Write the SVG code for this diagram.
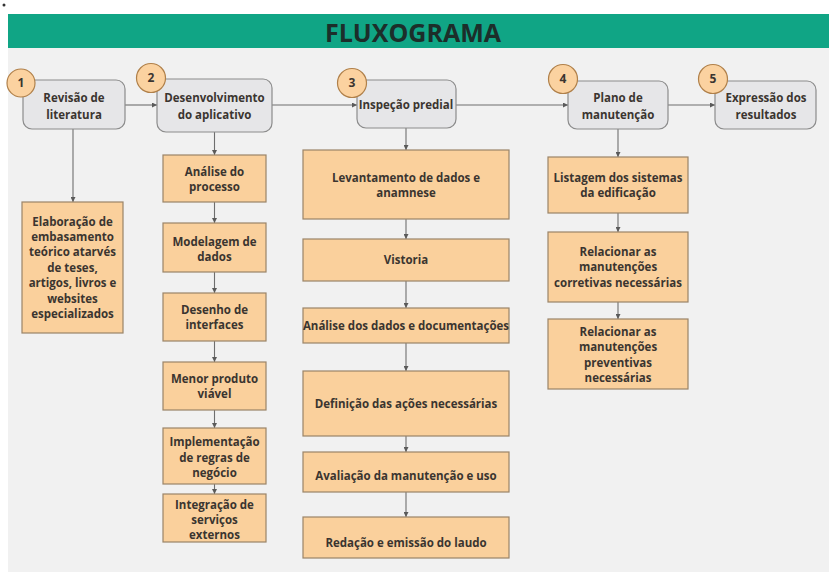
<svg xmlns="http://www.w3.org/2000/svg" width="829" height="572" viewBox="0 0 829 572">
<defs>
<style>
.t{font-family:"Open Sans","DejaVu Sans",sans-serif;font-weight:700;font-size:11.5px;fill:#3b3530;text-anchor:middle}
.g{fill:#e6e6e8;stroke:#8c8c8c;stroke-width:1.2}
.o{fill:#fad09c;stroke:#9a8468;stroke-width:1.2}
.c{fill:#fbd2a0;stroke:#b0804a;stroke-width:1.2}
.n{font-family:"Open Sans","DejaVu Sans",sans-serif;font-weight:700;font-size:12px;fill:#3b3530;text-anchor:middle}
.l{stroke:#6e6e6e;stroke-width:1.1;fill:none;marker-end:url(#a)}
</style>
<marker id="a" viewBox="0 0 6 6" refX="6" refY="3" markerWidth="5" markerHeight="5" orient="auto" markerUnits="userSpaceOnUse">
<path d="M0,0 L6,3 L0,6 z" fill="#5a5a5a"/>
</marker>
</defs>
<rect x="0" y="0" width="829" height="572" fill="#ffffff"/>
<circle cx="4" cy="5" r="1.5" fill="#333"/>
<rect x="8" y="14" width="821" height="558" fill="#f1f1f1"/>
<rect x="8" y="14" width="821" height="34" fill="#10a585"/>
<text x="413" y="42" style="font-family:'Open Sans','DejaVu Sans',sans-serif;font-weight:700;font-size:25px;fill:#1c2e2a;text-anchor:middle">FLUXOGRAMA</text>

<g id="connectors">
<line class="l" x1="125" y1="105" x2="157" y2="105"/>
<line class="l" x1="272" y1="105" x2="357" y2="105"/>
<line class="l" x1="456" y1="105" x2="568" y2="105"/>
<line class="l" x1="668" y1="105" x2="715" y2="105"/>
<line class="l" x1="73" y1="129" x2="73" y2="202"/>
<line class="l" x1="214.5" y1="132" x2="214.5" y2="155"/>
<line class="l" x1="214.5" y1="202" x2="214.5" y2="223"/>
<line class="l" x1="214.5" y1="272" x2="214.5" y2="293"/>
<line class="l" x1="214.5" y1="341" x2="214.5" y2="362"/>
<line class="l" x1="214.5" y1="410" x2="214.5" y2="428"/>
<line class="l" x1="214.5" y1="484" x2="214.5" y2="494"/>
<line class="l" x1="406" y1="128" x2="406" y2="150"/>
<line class="l" x1="406" y1="219" x2="406" y2="239"/>
<line class="l" x1="406" y1="281" x2="406" y2="308"/>
<line class="l" x1="406" y1="343" x2="406" y2="371"/>
<line class="l" x1="406" y1="436" x2="406" y2="452"/>
<line class="l" x1="406" y1="492" x2="406" y2="517"/>
<line class="l" x1="618" y1="129" x2="618" y2="157"/>
<line class="l" x1="618" y1="213" x2="618" y2="232"/>
<line class="l" x1="618" y1="302" x2="618" y2="319"/>
</g>

<g id="node1">
<rect class="g" x="23" y="80" width="102" height="49" rx="9"/>
<text class="t" x="74" y="102">Revisão de</text>
<text class="t" x="74" y="119">literatura</text>
<circle class="c" cx="21" cy="83" r="14"/>
<text class="n" x="21" y="87">1</text>
</g>
<g id="node2">
<rect class="g" x="157" y="79" width="115" height="53" rx="9"/>
<text class="t" x="214.5" y="102">Desenvolvimento</text>
<text class="t" x="214.5" y="119">do aplicativo</text>
<circle class="c" cx="151" cy="78" r="14.5"/>
<text class="n" x="151" y="82">2</text>
</g>
<g id="node3">
<rect class="g" x="357" y="80" width="99" height="48" rx="9"/>
<text class="t" x="406" y="109">Inspeção predial</text>
<circle class="c" cx="352" cy="83" r="14.5"/>
<text class="n" x="352" y="87">3</text>
</g>
<g id="node4">
<rect class="g" x="568" y="81" width="100" height="48" rx="9"/>
<text class="t" x="618" y="102">Plano de</text>
<text class="t" x="618" y="119">manutenção</text>
<circle class="c" cx="563" cy="79" r="14.5"/>
<text class="n" x="563" y="83">4</text>
</g>
<g id="node5">
<rect class="g" x="715" y="81" width="101" height="48" rx="9"/>
<text class="t" x="766" y="102">Expressão dos</text>
<text class="t" x="766" y="119">resultados</text>
<circle class="c" cx="713" cy="79" r="14.5"/>
<text class="n" x="713" y="83">5</text>
</g>

<g id="elaboracao">
<rect class="o" x="22" y="202" width="101" height="131"/>
<text class="t" x="72.5" y="226">Elaboração de</text>
<text class="t" x="72.5" y="241">embasamento</text>
<text class="t" x="72.5" y="256">teórico atarvés</text>
<text class="t" x="72.5" y="272">de teses,</text>
<text class="t" x="72.5" y="287">artigos, livros e</text>
<text class="t" x="72.5" y="303">websites</text>
<text class="t" x="72.5" y="318">especializados</text>
</g>

<g id="analise-processo">
<rect class="o" x="163" y="155" width="103" height="47"/>
<text class="t" x="214.5" y="176">Análise do</text>
<text class="t" x="214.5" y="191">processo</text>
</g>
<g id="modelagem">
<rect class="o" x="163" y="223" width="103" height="49"/>
<text class="t" x="214.5" y="246">Modelagem de</text>
<text class="t" x="214.5" y="261">dados</text>
</g>
<g id="desenho">
<rect class="o" x="163" y="293" width="103" height="48"/>
<text class="t" x="214.5" y="314">Desenho de</text>
<text class="t" x="214.5" y="329">interfaces</text>
</g>
<g id="menor">
<rect class="o" x="163" y="362" width="103" height="48"/>
<text class="t" x="214.5" y="383">Menor produto</text>
<text class="t" x="214.5" y="398">viável</text>
</g>
<g id="implementacao">
<rect class="o" x="163" y="428" width="103" height="56"/>
<text class="t" x="214.5" y="446">Implementação</text>
<text class="t" x="214.5" y="462">de regras de</text>
<text class="t" x="214.5" y="477">negócio</text>
</g>
<g id="integracao">
<rect class="o" x="163" y="494" width="103" height="48"/>
<text class="t" x="214.5" y="509">Integração de</text>
<text class="t" x="214.5" y="524">serviços</text>
<text class="t" x="214.5" y="539">externos</text>
</g>

<g id="levantamento">
<rect class="o" x="303" y="150" width="206" height="69"/>
<text class="t" x="406" y="182">Levantamento de dados e</text>
<text class="t" x="406" y="197">anamnese</text>
</g>
<g id="vistoria">
<rect class="o" x="303" y="239" width="206" height="42"/>
<text class="t" x="406" y="264">Vistoria</text>
</g>
<g id="analise-dados">
<rect class="o" x="303" y="308" width="206" height="35"/>
<text class="t" x="406" y="330">Análise dos dados e documentações</text>
</g>
<g id="definicao">
<rect class="o" x="303" y="371" width="206" height="65"/>
<text class="t" x="406" y="408">Definição das ações necessárias</text>
</g>
<g id="avaliacao">
<rect class="o" x="303" y="452" width="206" height="40"/>
<text class="t" x="406" y="480">Avaliação da manutenção e uso</text>
</g>
<g id="redacao">
<rect class="o" x="303" y="517" width="206" height="41"/>
<text class="t" x="406" y="547">Redação e emissão do laudo</text>
</g>

<g id="listagem">
<rect class="o" x="548" y="157" width="140" height="56"/>
<text class="t" x="618" y="182">Listagem dos sistemas</text>
<text class="t" x="618" y="197">da edificação</text>
</g>
<g id="corretivas">
<rect class="o" x="548" y="232" width="140" height="70"/>
<text class="t" x="618" y="256">Relacionar as</text>
<text class="t" x="618" y="271">manutenções</text>
<text class="t" x="618" y="287">corretivas necessárias</text>
</g>
<g id="preventivas">
<rect class="o" x="548" y="319" width="140" height="70"/>
<text class="t" x="618" y="336">Relacionar as</text>
<text class="t" x="618" y="351">manutenções</text>
<text class="t" x="618" y="367">preventivas</text>
<text class="t" x="618" y="382">necessárias</text>
</g>
</svg>
